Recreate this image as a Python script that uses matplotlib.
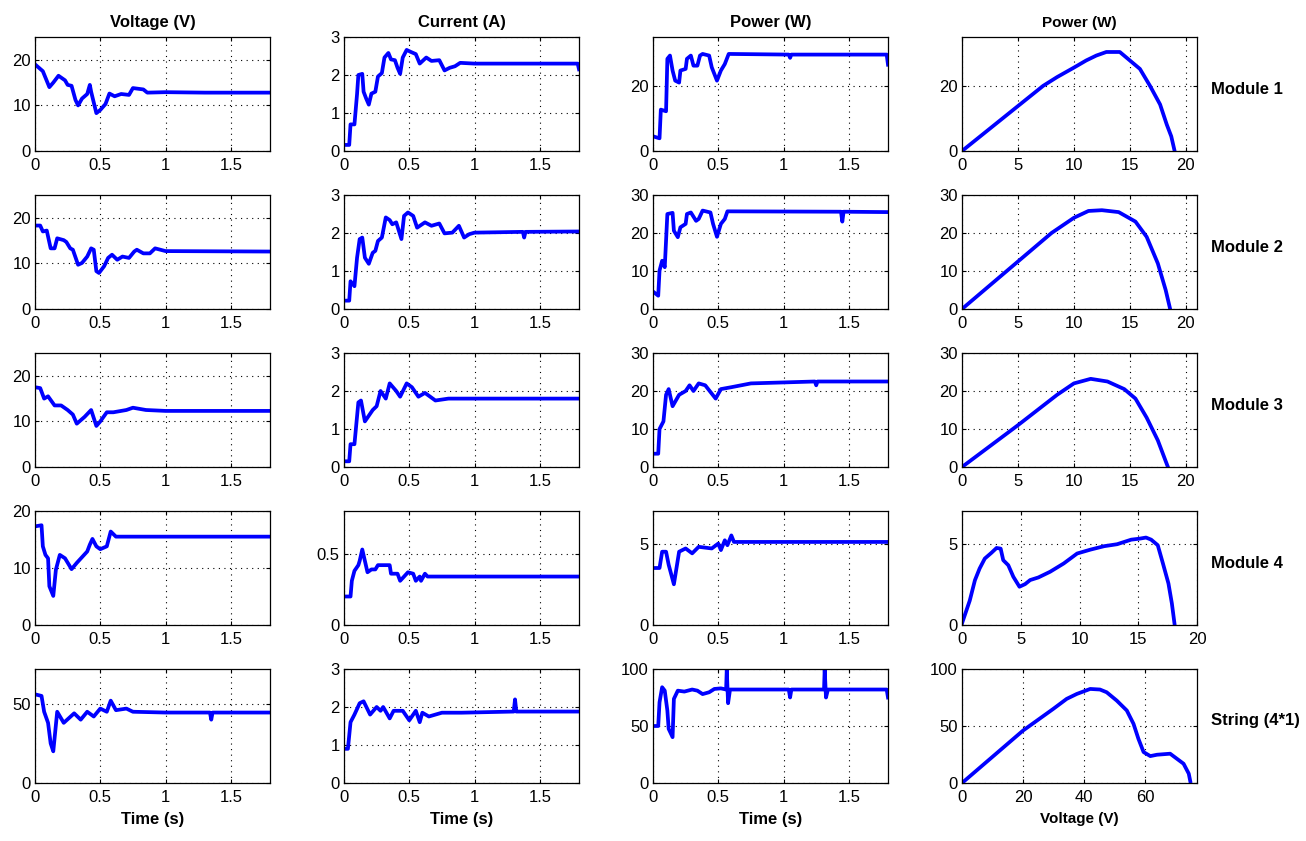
import numpy as np
import matplotlib
matplotlib.use("Agg")
import matplotlib.pyplot as plt

plt.rcParams['font.family'] = ['Liberation Sans Narrow', 'Liberation Sans', 'DejaVu Sans']

# ---- column 1: voltage vs time ----
v1_t = [0, 0.04, 0.06, 0.11, 0.14, 0.18, 0.23, 0.25, 0.28, 0.31, 0.33, 0.36, 0.40, 0.42, 0.43,
        0.47, 0.50, 0.54, 0.57, 0.61, 0.66, 0.72, 0.75, 0.83, 0.86, 1.0, 1.3, 1.8]
v1_v = [19, 18, 17.5, 14, 15, 16.5, 15.5, 14.5, 14.3, 11.2, 10, 11.5, 12.5, 14.5, 13,
        8.3, 9, 10.3, 12.6, 12, 12.5, 12.3, 13.8, 13.5, 12.8, 12.9, 12.8, 12.8]
v2_t = [0, 0.04, 0.06, 0.09, 0.12, 0.15, 0.17, 0.22, 0.24, 0.27, 0.29, 0.33, 0.36, 0.40, 0.43,
        0.45, 0.47, 0.49, 0.53, 0.56, 0.59, 0.63, 0.67, 0.72, 0.76, 0.78, 0.83, 0.88, 0.92, 1.0, 1.8]
v2_v = [18.3, 18.3, 17, 17.2, 13.3, 13.3, 15.5, 15.1, 14.7, 13.3, 13, 9.7, 10.1, 11.5, 13.3,
        13, 8.3, 7.9, 9.4, 11.2, 11.9, 10.8, 11.5, 11.2, 12.6, 13, 12.2, 12.2, 13.3, 12.7, 12.6]
v3_t = [0, 0.04, 0.07, 0.1, 0.15, 0.2, 0.25, 0.29, 0.32, 0.38, 0.43, 0.47, 0.5, 0.55, 0.6,
        0.7, 0.75, 0.85, 1.0, 1.8]
v3_v = [17.5, 17.3, 15, 15.5, 13.5, 13.5, 12.5, 11.5, 9.5, 11, 12.5, 9, 10, 12, 12,
        12.5, 13, 12.5, 12.3, 12.3]
v4_t = [0, 0.05, 0.06, 0.08, 0.1, 0.11, 0.14, 0.16, 0.19, 0.23, 0.28, 0.32, 0.40, 0.42, 0.44,
        0.47, 0.50, 0.55, 0.58, 0.62, 1.8]
v4_v = [17.3, 17.5, 13.8, 12.3, 11.7, 6.8, 5.1, 9.7, 12.3, 11.7, 9.8, 10.9, 12.9, 14.1, 15.1,
        13.8, 13.3, 13.8, 16.4, 15.5, 15.5]
vs_t = [0, 0.05, 0.07, 0.1, 0.12, 0.14, 0.17, 0.22, 0.3, 0.35, 0.4, 0.45, 0.5, 0.55, 0.58,
        0.62, 0.7, 0.75, 1.0, 1.34, 1.35, 1.36, 1.8]
vs_v = [56, 55, 45, 38, 25, 20, 45, 38, 44, 40, 45, 42, 47, 45, 52,
        46, 47, 45, 44.5, 44.5, 40, 44.5, 44.5]

# ---- column 2: current vs time ----
i1_t = [0, 0.04, 0.05, 0.08, 0.1, 0.11, 0.14, 0.15, 0.17, 0.19, 0.21, 0.24, 0.26, 0.29, 0.31,
        0.34, 0.36, 0.39, 0.41, 0.43, 0.45, 0.48, 0.51, 0.55, 0.58, 0.63, 0.67, 0.73, 0.77, 0.81,
        0.85, 0.89, 1.0, 1.79, 1.8]
i1_v = [0.16, 0.16, 0.7, 0.7, 1.5, 2.0, 2.03, 1.56, 1.38, 1.22, 1.51, 1.56, 1.96, 2.05, 2.46,
        2.58, 2.41, 2.39, 2.19, 2.03, 2.46, 2.66, 2.61, 2.55, 2.3, 2.46, 2.37, 2.39, 2.12, 2.19,
        2.23, 2.32, 2.3, 2.3, 2.15]
i2_t = [0, 0.04, 0.05, 0.08, 0.1, 0.12, 0.14, 0.16, 0.19, 0.22, 0.24, 0.26, 0.29, 0.32, 0.35,
        0.37, 0.40, 0.44, 0.46, 0.49, 0.53, 0.56, 0.62, 0.67, 0.73, 0.77, 0.83, 0.88, 0.92, 0.96,
        1.0, 1.37, 1.38, 1.39, 1.8]
i2_v = [0.22, 0.22, 0.73, 0.6, 1.35, 1.84, 1.88, 1.35, 1.19, 1.48, 1.53, 1.79, 1.88, 2.41, 2.34,
        2.23, 2.28, 1.84, 2.45, 2.54, 2.45, 2.14, 2.28, 2.19, 2.25, 1.99, 2.01, 2.19, 1.88, 1.97,
        2.01, 2.03, 1.88, 2.03, 2.04]
i3_t = [0, 0.04, 0.05, 0.08, 0.11, 0.13, 0.16, 0.22, 0.25, 0.28, 0.32, 0.35, 0.4, 0.43, 0.48,
        0.52, 0.57, 0.62, 0.7, 0.8, 1.8]
i3_v = [0.15, 0.15, 0.6, 0.6, 1.7, 1.75, 1.2, 1.5, 1.6, 2.0, 1.8, 2.2, 2.0, 1.85, 2.2,
        2.1, 1.85, 1.95, 1.75, 1.8, 1.8]
i4_t = [0, 0.05, 0.06, 0.08, 0.11, 0.12, 0.14, 0.16, 0.18, 0.21, 0.24, 0.26, 0.35, 0.36, 0.41,
        0.43, 0.46, 0.49, 0.53, 0.55, 0.58, 0.59, 0.62, 0.64, 1.8]
i4_v = [0.2, 0.2, 0.31, 0.38, 0.42, 0.45, 0.53, 0.45, 0.37, 0.39, 0.39, 0.42, 0.42, 0.36, 0.36,
        0.31, 0.34, 0.37, 0.36, 0.31, 0.34, 0.31, 0.36, 0.34, 0.34]
is_t = [0, 0.03, 0.05, 0.08, 0.12, 0.15, 0.2, 0.25, 0.28, 0.3, 0.35, 0.38, 0.45, 0.5, 0.55,
        0.58, 0.6, 0.65, 0.75, 0.9, 1.3, 1.31, 1.32, 1.8]
is_v = [0.9, 0.9, 1.6, 1.8, 2.1, 2.15, 1.8, 2.0, 1.9, 2.0, 1.7, 1.9, 1.9, 1.65, 1.9,
        1.6, 1.85, 1.75, 1.85, 1.85, 1.88, 2.2, 1.88, 1.88]

# ---- column 3: power vs time ----
p1_t = [0, 0.05, 0.06, 0.1, 0.11, 0.13, 0.15, 0.17, 0.2, 0.21, 0.25, 0.26, 0.29, 0.31, 0.34,
        0.36, 0.38, 0.43, 0.45, 0.49, 0.52, 0.55, 0.58, 1.04, 1.05, 1.06, 1.79, 1.8]
p1_v = [4.5, 3.9, 12.7, 12.2, 28.3, 29.3, 24.7, 21.6, 21, 24.7, 25.2, 28.3, 29.3, 26.2, 26.2,
        29.3, 29.8, 29.3, 25.7, 21.6, 24.7, 26.7, 29.8, 29.6, 28.6, 29.6, 29.6, 26.5]
p2_t = [0, 0.04, 0.05, 0.07, 0.09, 0.11, 0.15, 0.16, 0.19, 0.21, 0.25, 0.26, 0.29, 0.33, 0.35,
        0.38, 0.44, 0.46, 0.49, 0.52, 0.55, 0.57, 1.44, 1.45, 1.46, 1.8]
p2_v = [4.6, 3.5, 10.1, 12.7, 11, 25, 25.3, 20.6, 18.9, 21.5, 22.4, 25, 25.4, 23.2, 23.7,
        25.9, 25.4, 22.4, 19, 22.4, 23.7, 25.7, 25.6, 23, 25.6, 25.5]
p3_t = [0, 0.04, 0.05, 0.08, 0.1, 0.12, 0.15, 0.2, 0.25, 0.28, 0.31, 0.35, 0.4, 0.48, 0.52,
        0.6, 0.75, 1.24, 1.25, 1.26, 1.8]
p3_v = [3.5, 3.5, 10, 12, 19, 20.5, 16, 19, 20, 21.5, 20, 22, 21.5, 18, 20.5,
        21, 22, 22.5, 21.5, 22.5, 22.5]
p4_t = [0, 0.05, 0.07, 0.1, 0.12, 0.16, 0.2, 0.25, 0.3, 0.35, 0.45, 0.5, 0.52, 0.55, 0.57,
        0.6, 0.62, 1.8]
p4_v = [3.5, 3.5, 4.5, 4.5, 3.7, 2.5, 4.5, 4.7, 4.4, 4.8, 4.7, 5.0, 4.6, 5.2, 4.9,
        5.5, 5.1, 5.1]
ps_t = [0, 0.04, 0.05, 0.07, 0.09, 0.11, 0.12, 0.15, 0.16, 0.19, 0.24, 0.3, 0.34, 0.38, 0.43,
        0.47, 0.52, 0.56, 0.565, 0.575, 0.59, 1.04, 1.05, 1.06, 1.31, 1.315, 1.325, 1.34, 1.79, 1.8]
ps_v = [50, 50, 70.8, 84, 81, 63.6, 47.5, 40.2, 73.8, 81, 80.2, 82, 81, 78, 79.6,
        82.5, 83, 82, 100, 70, 82, 82, 75, 82, 82, 100, 75, 82, 82, 75]

# ---- column 4: power vs voltage ----
pv1_v = [0, 5, 7.25, 8.5, 10, 11.1, 12, 12.9, 14.1, 15, 15.9, 16.8, 17.7, 18.3, 18.7, 19.0]
pv1_p = [0, 13.8, 20, 22.7, 25.6, 27.8, 29.3, 30.4, 30.4, 27.8, 25.2, 20, 14.3, 8.1, 4.5, 0]
pv2_v = [0, 5, 8, 10, 11.3, 12.5, 14, 15.5, 16.5, 17.5, 18.2, 18.6]
pv2_p = [0, 12.5, 20, 24, 25.8, 26, 25.5, 23, 19, 12, 5, 0]
pv3_v = [0, 5, 8.5, 10, 11.5, 13, 14.5, 15.5, 16.5, 17.5, 18.4]
pv3_p = [0, 11, 19, 22, 23.2, 22.5, 20.5, 18, 13, 7, 0]
pv4_v = [0, 0.66, 1.1, 1.5, 1.94, 2.5, 2.94, 3.29, 3.51, 3.94, 4.37, 4.89, 5.37, 5.8, 6.5,
         7.5, 8.66, 9.8, 10.94, 12.1, 13.2, 14.4, 15.1, 15.66, 16.1, 16.66, 17.1, 17.57, 17.86, 18.1]
pv4_p = [0.1, 1.5, 2.75, 3.47, 4.08, 4.43, 4.73, 4.69, 3.98, 3.67, 2.96, 2.35, 2.51, 2.76, 2.92,
         3.27, 3.78, 4.39, 4.63, 4.84, 4.96, 5.24, 5.3, 5.37, 5.24, 4.9, 3.78, 2.55, 1.33, 0]
pvs_v = [0, 20, 29.9, 34.3, 37.6, 40, 42, 45.2, 47.4, 50.7, 54, 56.2, 57.8, 59.5, 61.7,
         63.9, 68.2, 70.4, 72.6, 74.3, 74.8]
pvs_p = [0, 46, 65, 73.8, 78.1, 80.5, 82.5, 82, 79.6, 72.3, 63.6, 51.9, 38.8, 27.1, 23.6,
         24.8, 25.7, 21.3, 16.9, 8.2, 1.5]

col_titles = ['Voltage (V)', 'Current (A)', 'Power (W)', 'Power (W)']
row_labels = ['Module 1', 'Module 2', 'Module 3', 'Module 4', 'String (4*1)']

series = [
    [(v1_t, v1_v), (i1_t, i1_v), (p1_t, p1_v), (pv1_v, pv1_p)],
    [(v2_t, v2_v), (i2_t, i2_v), (p2_t, p2_v), (pv2_v, pv2_p)],
    [(v3_t, v3_v), (i3_t, i3_v), (p3_t, p3_v), (pv3_v, pv3_p)],
    [(v4_t, v4_v), (i4_t, i4_v), (p4_t, p4_v), (pv4_v, pv4_p)],
    [(vs_t, vs_v), (is_t, is_v), (ps_t, ps_v), (pvs_v, pvs_p)],
]
ylims = [[25, 3, 35, 35], [25, 3, 30, 30], [25, 3, 30, 30], [20, 0.8, 7, 7], [72, 3, 100, 100]]
yticks = [
    [[0, 10, 20], [0, 1, 2, 3], [0, 20], [0, 20]],
    [[0, 10, 20], [0, 1, 2, 3], [0, 10, 20, 30], [0, 10, 20, 30]],
    [[0, 10, 20], [0, 1, 2, 3], [0, 10, 20, 30], [0, 10, 20, 30]],
    [[0, 10, 20], [0, 0.5], [0, 5], [0, 5]],
    [[0, 50], [0, 1, 2, 3], [0, 50, 100], [0, 50, 100]],
]
pv_xlims = [21, 21, 21, 20, 77]

W, H = 1306, 841
fig = plt.figure(figsize=(W / 100, H / 100), dpi=100)
lefts = [35, 344, 653, 962]
tops = [37, 195, 353, 511, 669]
aw, ah = 235, 114

for r in range(5):
    for c in range(4):
        ax = fig.add_axes([lefts[c] / W, 1 - (tops[r] + ah) / H, aw / W, ah / H])
        x, y = series[r][c]
        ax.plot(x, y, color='#0000ff', lw=2.7, solid_joinstyle='round')
        if c < 3:
            ax.set_xlim(0, 1.8)
            ax.set_xticks([0, 0.5, 1, 1.5])
            ax.set_xticklabels(['0', '0.5', '1', '1.5'])
        else:
            ax.set_xlim(0, pv_xlims[r])
            ax.set_xticks([0, 20, 40, 60] if r == 4 else [0, 5, 10, 15, 20])
        ax.set_ylim(0, ylims[r][c])
        ax.set_yticks(yticks[r][c])
        ax.set_yticklabels([('%g' % v) for v in yticks[r][c]])
        ax.grid(True, color='black', linestyle=(0, (1, 4)), linewidth=0.8)
        ax.tick_params(direction='in', length=3, labelsize=12, top=True, right=True)
        ax.tick_params(axis='x', pad=5)
        ax.tick_params(axis='y', pad=3)
        for s in ax.spines.values():
            s.set_linewidth(0.9)
        if r == 0:
            ax.set_title(col_titles[c], fontsize=11 if c == 3 else 12,
                         fontweight='bold', pad=7)
        if r == 4:
            ax.set_xlabel('Time (s)' if c < 3 else 'Voltage (V)',
                          fontsize=12 if c < 3 else 11, fontweight='bold', labelpad=5)
    fig.text(1211 / W, 1 - (tops[r] + 52) / H, row_labels[r], ha='left', va='center',
             fontsize=12, fontweight='bold')

fig.savefig('out.png', dpi=100)
